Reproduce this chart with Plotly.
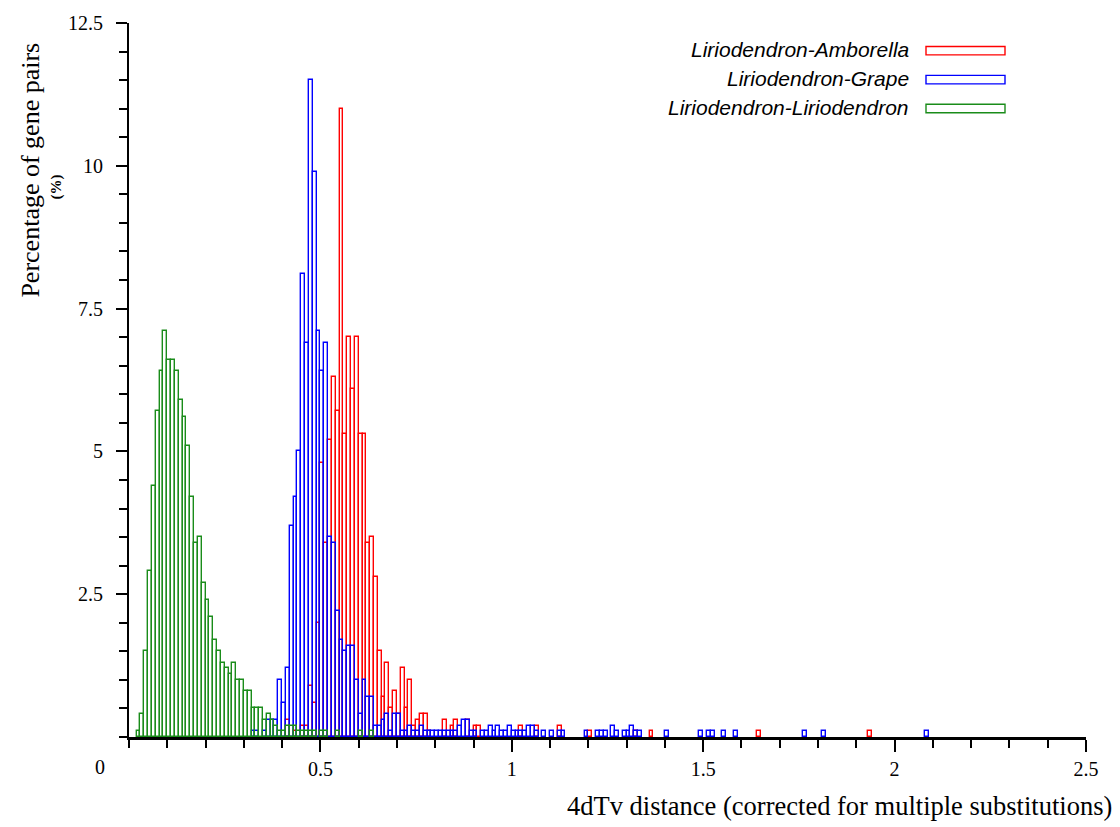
import plotly.graph_objects as go

# Histogram bins are 0.01 wide; each list gives the lower edge of the bin.
BIN_WIDTH = 0.01

amborella_bins = [0.41, 0.43, 0.45, 0.46, 0.47, 0.48, 0.49, 0.50, 0.51, 0.52,
                  0.53, 0.54, 0.55, 0.56, 0.57, 0.58, 0.59, 0.60, 0.61, 0.62,
                  0.63, 0.64, 0.65, 0.66, 0.67, 0.68, 0.69, 0.70, 0.71, 0.72,
                  0.73, 0.74, 0.75, 0.76, 0.77, 0.78, 0.82, 0.84, 0.85, 0.88,
                  0.90, 0.91, 1.02, 1.06, 1.12, 1.20, 1.32, 1.36, 1.64, 1.93]
amborella_pct = [0.3, 0.1, 0.2, 0.2, 0.9, 0.6, 2.0, 4.8, 3.4, 5.2,
                 6.3, 5.7, 11.0, 5.3, 7.0, 6.1, 7.0, 5.3, 5.3, 3.4,
                 3.5, 2.8, 1.5, 0.7, 1.3, 0.5, 0.8, 0.4, 1.2, 0.5,
                 1.0, 0.2, 0.3, 0.4, 0.4, 0.1, 0.3, 0.2, 0.3, 0.3,
                 0.2, 0.2, 0.2, 0.2, 0.2, 0.1, 0.1, 0.1, 0.1, 0.1]

grape_bins = [0.32, 0.33, 0.35, 0.36, 0.37, 0.38, 0.39, 0.40, 0.41, 0.42,
              0.43, 0.44, 0.45, 0.46, 0.47, 0.48, 0.49, 0.50, 0.51, 0.52,
              0.53, 0.54, 0.55, 0.56, 0.57, 0.58, 0.59, 0.60, 0.61, 0.62,
              0.63, 0.64, 0.65, 0.66, 0.67, 0.68, 0.69, 0.70, 0.71, 0.72,
              0.73, 0.74, 0.75, 0.76, 0.77, 0.78, 0.79, 0.80, 0.81, 0.82,
              0.83, 0.84, 0.85, 0.86, 0.87, 0.88, 0.89, 0.90, 0.92, 0.93,
              0.94, 0.95, 0.96, 0.97, 0.98, 0.99, 1.00, 1.01, 1.02, 1.03,
              1.04, 1.05, 1.06, 1.08, 1.10, 1.12, 1.13, 1.19, 1.22, 1.23,
              1.24, 1.26, 1.27, 1.29, 1.30, 1.31, 1.32, 1.33, 1.40, 1.49,
              1.51, 1.52, 1.55, 1.58, 1.76, 1.81, 2.08]
grape_pct = [0.1, 0.1, 0.1, 0.3, 0.3, 0.3, 1.0, 0.6, 1.2, 3.7,
             4.2, 5.0, 8.1, 6.9, 11.5, 9.9, 7.1, 6.4, 6.9, 3.5,
             3.4, 2.2, 1.7, 1.5, 1.6, 1.6, 1.0, 0.4, 1.0, 0.7,
             0.7, 0.2, 0.2, 0.3, 0.4, 0.1, 0.4, 0.4, 0.1, 0.1,
             0.2, 0.1, 0.1, 0.2, 0.1, 0.1, 0.1, 0.1, 0.1, 0.1,
             0.1, 0.1, 0.1, 0.2, 0.3, 0.3, 0.1, 0.1, 0.1, 0.1,
             0.2, 0.1, 0.2, 0.1, 0.1, 0.2, 0.1, 0.1, 0.1, 0.1,
             0.2, 0.2, 0.1, 0.1, 0.1, 0.1, 0.1, 0.1, 0.1, 0.1,
             0.1, 0.2, 0.1, 0.1, 0.1, 0.2, 0.1, 0.1, 0.1, 0.1,
             0.1, 0.1, 0.1, 0.1, 0.1, 0.1, 0.1]

liriodendron_bins = [0.02, 0.03, 0.04, 0.05, 0.06, 0.07, 0.08, 0.09, 0.10, 0.11,
                     0.12, 0.13, 0.14, 0.15, 0.16, 0.17, 0.18, 0.19, 0.20, 0.21,
                     0.22, 0.23, 0.24, 0.25, 0.26, 0.27, 0.28, 0.29, 0.30, 0.31,
                     0.32, 0.33, 0.34, 0.35, 0.36, 0.37, 0.38, 0.39, 0.40, 0.41,
                     0.42, 0.43, 0.44, 0.45, 0.46, 0.47, 0.48, 0.50, 0.51, 0.54,
                     0.60, 0.63]
liriodendron_pct = [0.1, 0.4, 1.5, 2.9, 4.4, 5.7, 6.4, 7.1, 6.6, 6.6,
                    6.4, 5.9, 5.6, 5.1, 4.2, 3.4, 3.5, 2.7, 2.4, 2.1,
                    1.7, 1.5, 1.3, 1.2, 1.1, 1.3, 1.0, 1.0, 0.8, 0.8,
                    0.5, 0.5, 0.5, 0.3, 0.4, 0.3, 0.2, 0.1, 0.1, 0.2,
                    0.2, 0.2, 0.1, 0.1, 0.1, 0.1, 0.1, 0.1, 0.1, 0.1,
                    0.1, 0.1]

series_names = ["Liriodendron-Amborella", "Liriodendron-Grape",
                "Liriodendron-Liriodendron"]
series_colors = ["#ff0000", "#0000ff", "#1a8c1a"]

x_tick_vals = [0.5, 1, 1.5, 2, 2.5]
x_tick_text = ["0.5", "1", "1.5", "2", "2.5"]
y_tick_vals = [2.5, 5, 7.5, 10, 12.5]
y_tick_text = ["2.5", "5", "7.5", "10", "12.5"]

# Page geometry (pixels) and helpers to place overlay items in paper units.
W, H = 1120, 827
MARGIN = dict(l=129, r=34, t=21, b=90)
PLOT_W = W - MARGIN["l"] - MARGIN["r"]
PLOT_H = H - MARGIN["t"] - MARGIN["b"]


def paper_x(px):
    return (px - MARGIN["l"]) / PLOT_W


def paper_y(py):
    return 1 - (py - MARGIN["t"]) / PLOT_H


SERIF = "Liberation Serif, Times New Roman, serif"
SANS = "Liberation Sans, Arial, sans-serif"

fig = go.Figure()

for name, bins, pct, color in zip(series_names,
                                  [amborella_bins, grape_bins, liriodendron_bins],
                                  [amborella_pct, grape_pct, liriodendron_pct],
                                  series_colors):
    fig.add_trace(go.Bar(
        x=bins, y=pct, name=name,
        width=BIN_WIDTH, offset=0,
        marker=dict(color="rgba(0,0,0,0)", line=dict(color=color, width=1.4)),
        showlegend=False,
        hovertemplate="%{x:.2f}: %{y}%<extra>" + name + "</extra>",
    ))

# Legend: right-aligned italic labels with an outlined swatch to their right.
legend_rows = [48, 77, 106]
for name, color, row in zip(series_names, series_colors, legend_rows):
    fig.add_annotation(
        text="<i>" + name + "</i>", xref="paper", yref="paper",
        x=paper_x(911), y=paper_y(row), xanchor="right", yanchor="middle",
        showarrow=False, font=dict(family=SANS, size=21, color="black"),
    )
    fig.add_shape(
        type="rect", xref="paper", yref="paper",
        x0=paper_x(926), x1=paper_x(1005),
        y0=paper_y(row - 3.5), y1=paper_y(row + 5),
        line=dict(color=color, width=1.4), fillcolor="rgba(0,0,0,0)",
    )

# Axis titles and the shared origin label.
fig.add_annotation(
    text="Percentage of gene pairs", xref="paper", yref="paper",
    x=paper_x(31), y=paper_y(169), textangle=-90,
    xanchor="center", yanchor="middle", showarrow=False,
    font=dict(family=SERIF, size=26, color="black"),
)
fig.add_annotation(
    text="<b>(%)</b>", xref="paper", yref="paper",
    x=paper_x(57), y=paper_y(186), textangle=-90,
    xanchor="center", yanchor="middle", showarrow=False,
    font=dict(family=SERIF, size=15, color="black"),
)
fig.add_annotation(
    text="4dTv distance (corrected for multiple substitutions)",
    xref="paper", yref="paper",
    x=paper_x(1114), y=paper_y(806), xanchor="right", yanchor="middle",
    showarrow=False, font=dict(family=SERIF, size=26.5, color="black"),
)
fig.add_annotation(
    text="0", xref="paper", yref="paper",
    x=paper_x(100), y=paper_y(767), xanchor="center", yanchor="middle",
    showarrow=False, font=dict(family=SERIF, size=20, color="black"),
)

fig.update_layout(
    width=W, height=H,
    margin=dict(l=MARGIN["l"], r=MARGIN["r"], t=MARGIN["t"], b=MARGIN["b"], pad=0),
    paper_bgcolor="white", plot_bgcolor="white",
    barmode="overlay", bargap=0,
    showlegend=False,
    xaxis=dict(
        range=[0, 2.5], showgrid=False, zeroline=False,
        showline=True, linecolor="black", linewidth=2.5,
        tickmode="array", tickvals=x_tick_vals, ticktext=x_tick_text,
        ticks="outside", ticklen=12, tickwidth=2.2, tickcolor="black",
        ticklabelstandoff=0,
        minor=dict(tickmode="linear", tick0=0, dtick=0.1, ticks="outside",
                   ticklen=8, tickwidth=1.6, tickcolor="black", showgrid=False),
        tickfont=dict(family=SERIF, size=20, color="black"),
    ),
    yaxis=dict(
        range=[0, 12.5], showgrid=False, zeroline=False,
        showline=True, linecolor="black", linewidth=2.2,
        tickmode="array", tickvals=y_tick_vals, ticktext=y_tick_text,
        ticks="outside", ticklen=11, tickwidth=2.2, tickcolor="black",
        ticklabelstandoff=9,
        minor=dict(tickmode="linear", tick0=0, dtick=0.5, ticks="outside",
                   ticklen=8, tickwidth=1.6, tickcolor="black", showgrid=False),
        tickfont=dict(family=SERIF, size=20, color="black"),
    ),
)

fig.write_html("out.html")
